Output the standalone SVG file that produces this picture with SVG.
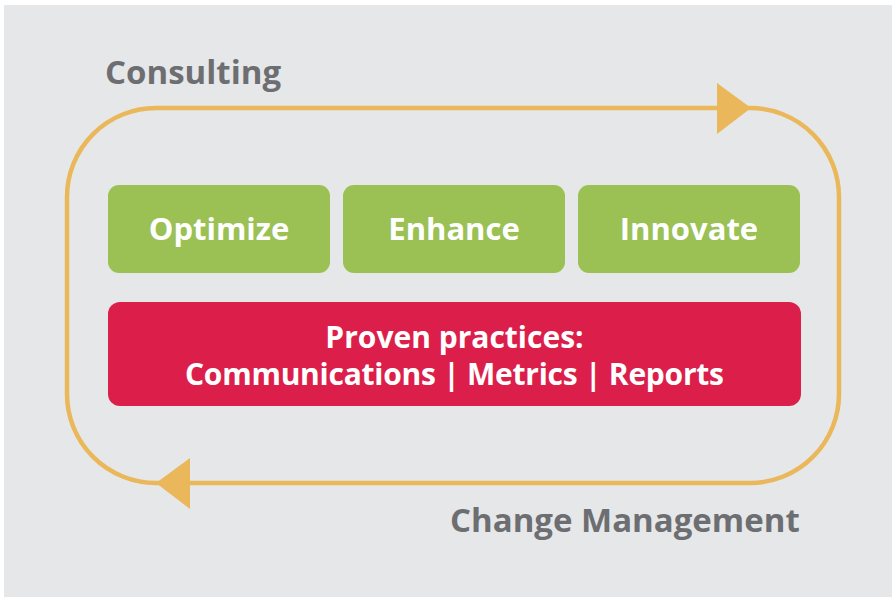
<svg xmlns="http://www.w3.org/2000/svg" width="892" height="597" viewBox="0 0 892 597">
<style>
.lbl{font-family:"Open Sans","Noto Sans","Liberation Sans",sans-serif;font-weight:bold;fill:#6d6e71;font-size:33px}
.box{font-family:"Open Sans","Noto Sans","Liberation Sans",sans-serif;font-weight:bold;fill:#ffffff;font-size:30px;text-anchor:middle}
.gt{font-size:31px}
.g{fill:#9bc154}
.r{fill:#db1f4a}
.loop{fill:none;stroke:#eab75a;stroke-width:4.5}
.ah{fill:#eab75a}
</style>
<rect x="4" y="5" width="888" height="592" fill="#e6e7e8"/>
<g id="connectors">
<rect class="loop" x="67" y="108" width="772" height="375" rx="89" ry="89"/>
<polygon class="ah" points="717,83 751,108 717,134"/>
<polygon class="ah" points="190,458 156,483 190,509"/>
</g>
<g id="consulting"><text class="lbl" x="105" y="84">Consulting</text></g>
<g id="change-management"><text class="lbl" x="450" y="532">Change Management</text></g>
<g id="optimize">
<rect class="g" x="108" y="185" width="222" height="88" rx="11"/>
<text class="box gt" x="219" y="240">Optimize</text>
</g>
<g id="enhance">
<rect class="g" x="343" y="185" width="222" height="88" rx="11"/>
<text class="box gt" x="454" y="240">Enhance</text>
</g>
<g id="innovate">
<rect class="g" x="578" y="185" width="222" height="88" rx="11"/>
<text class="box gt" x="689" y="240">Innovate</text>
</g>
<g id="proven-practices">
<rect class="r" x="108" y="302" width="693" height="104" rx="12"/>
<text class="box" x="454.5" y="347.5">Proven practices:</text>
<text class="box" x="454.5" y="384.5" textLength="539" lengthAdjust="spacing">Communications | Metrics | Reports</text>
</g>
</svg>
